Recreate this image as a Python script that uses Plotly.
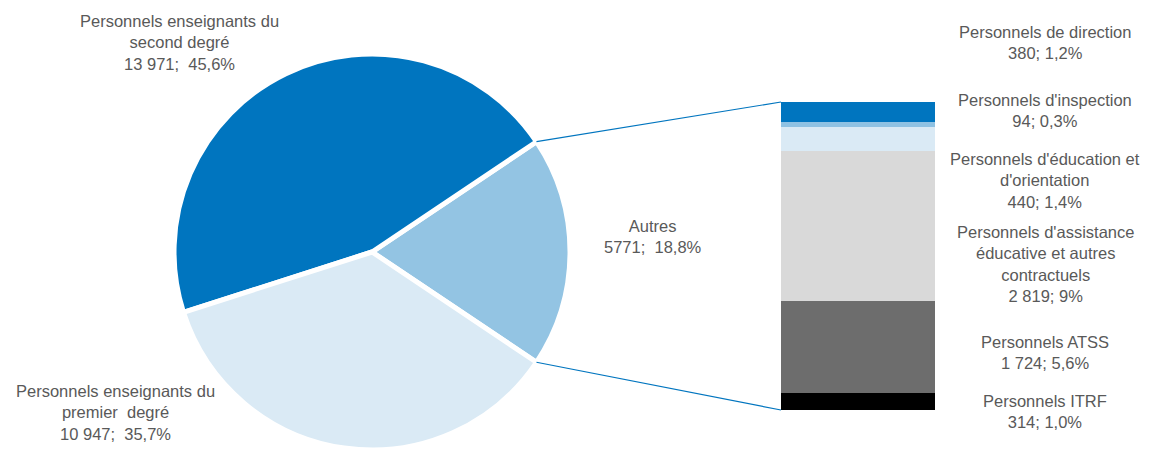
import math
import plotly.graph_objects as go

# Main breakdown (pie)
pie_names = ["Autres", "Personnels enseignants du<br>second degré", "Personnels enseignants du<br>premier  degré"]
pie_values = [5771, 13971, 10947]
pie_pct = ["18,8%", "45,6%", "35,7%"]
pie_colors = ["#93C4E3", "#0075BF", "#DAEAF5"]

# Breakdown of "Autres" (stacked bar, top to bottom)
bar_names = [
    "Personnels de direction",
    "Personnels d'inspection",
    "Personnels d'éducation et<br>d'orientation",
    "Personnels d'assistance<br>éducative et autres<br>contractuels",
    "Personnels ATSS",
    "Personnels ITRF",
]
bar_values = [380, 94, 440, 2819, 1724, 314]
bar_pct = ["1,2%", "0,3%", "1,4%", "9%", "5,6%", "1,0%"]
bar_colors = ["#0075BF", "#8FC2E3", "#DAEAF5", "#D9D9D9", "#6D6D6D", "#000000"]

W, H = 1150, 450
TEXT = "#595959"
FONT = "Liberation Sans, Arial, sans-serif"
FSIZE = 16.5


def fmt(v):
    return f"{v:,}".replace(",", " ")


# Pie placement (paper coords)
pie_dom_x = [0.1513, 0.4957]
pie_dom_y = [0.0, 0.88]
cx = (pie_dom_x[0] + pie_dom_x[1]) / 2 * W
cy = H - (pie_dom_y[0] + pie_dom_y[1]) / 2 * H
R = min((pie_dom_x[1] - pie_dom_x[0]) * W, (pie_dom_y[1] - pie_dom_y[0]) * H) / 2

total = sum(pie_values)
half = math.pi * pie_values[0] / total
# "Autres" centred on the right-hand side
start_rot = 90 - math.degrees(half)

# Bar placement
bar_dom_x = [781 / W, 935 / W]
bar_dom_y = [40 / H, 348 / H]
autres_total = sum(bar_values)

fig = go.Figure()

fig.add_trace(go.Pie(
    labels=[n.replace("<br>", " ") for n in pie_names],
    values=pie_values,
    marker=dict(colors=pie_colors, line=dict(color="white", width=5)),
    sort=False,
    direction="counterclockwise",
    rotation=start_rot,
    textinfo="none",
    domain=dict(x=pie_dom_x, y=pie_dom_y),
    showlegend=False,
))

# stacked from bottom: reverse order
for name, val, col in zip(reversed(bar_names), reversed(bar_values), reversed(bar_colors)):
    fig.add_trace(go.Bar(
        x=[0], y=[val], name=name.replace("<br>", " "),
        marker=dict(color=col, line=dict(width=0)),
        width=1, xaxis="x", yaxis="y", showlegend=False,
    ))

annotations = []
# pie labels
pie_label_pos = [(653, 237), (179, 42), (115, 412)]
for name, val, pct, (lx, ly) in zip(pie_names, pie_values, pie_pct, pie_label_pos):
    annotations.append(dict(
        x=lx / W, y=1 - ly / H, xref="paper", yref="paper",
        text=f"{name}<br>{fmt(val) if val >= 10000 else val};  {pct}",
        showarrow=False, xanchor="center", yanchor="middle", align="center",
        font=dict(family=FONT, size=FSIZE, color=TEXT),
    ))

bar_label_y = [42, 110, 180, 264, 352, 411]
for name, val, pct, ly in zip(bar_names, bar_values, bar_pct, bar_label_y):
    annotations.append(dict(
        x=1045 / W, y=1 - ly / H, xref="paper", yref="paper",
        text=f"{name}<br>{fmt(val)}; {pct}",
        showarrow=False, xanchor="center", yanchor="middle", align="center",
        font=dict(family=FONT, size=FSIZE, color=TEXT),
    ))

# connector lines from the "Autres" slice to the bar ends
px_top = (cx + R * math.cos(half), cy - R * math.sin(half))
px_bot = (cx + R * math.cos(half), cy + R * math.sin(half))
bar_left = bar_dom_x[0] * W
bar_top = H - bar_dom_y[1] * H
bar_bot = H - bar_dom_y[0] * H
shapes = []
for (x0, y0), y1 in [(px_top, bar_top), (px_bot, bar_bot)]:
    shapes.append(dict(
        type="line", xref="paper", yref="paper",
        x0=x0 / W, y0=1 - y0 / H, x1=bar_left / W, y1=1 - y1 / H,
        line=dict(color="#0075BF", width=1.2),
    ))

fig.update_layout(
    width=W, height=H,
    margin=dict(l=0, r=0, t=0, b=0),
    paper_bgcolor="white", plot_bgcolor="white",
    barmode="stack", bargap=0,
    xaxis=dict(domain=bar_dom_x, range=[-0.5, 0.5], visible=False, fixedrange=True),
    yaxis=dict(domain=bar_dom_y, range=[0, autres_total], visible=False, fixedrange=True),
    annotations=annotations,
    shapes=shapes,
    font=dict(family=FONT, color=TEXT),
)

fig.write_html("out.html")
